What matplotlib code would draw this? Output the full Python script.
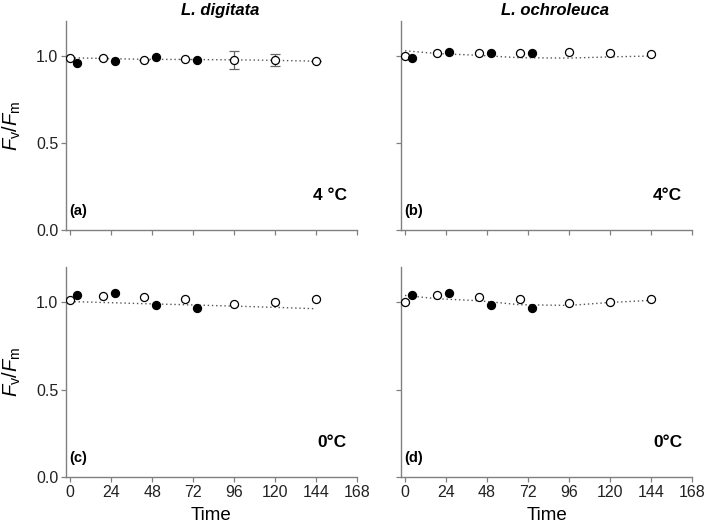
import numpy as np
import matplotlib
matplotlib.use("Agg")
import matplotlib.pyplot as plt

plt.rcParams['font.family'] = ['Liberation Sans', 'DejaVu Sans']
plt.rcParams['mathtext.fontset'] = 'custom'
plt.rcParams['mathtext.rm'] = 'Liberation Sans'
plt.rcParams['mathtext.it'] = 'Liberation Sans:italic'

# DATA
t_open = [0, 19, 43, 67, 96, 120, 144]
t_filled = [4, 26, 50, 74]
t_fit = [0, 19, 43, 67, 96, 120, 144]

a_open = [0.990, 0.987, 0.979, 0.981, 0.979, 0.975, 0.970]
a_open_err = [0, 0, 0, 0, 0.052, 0.034, 0]
a_filled = [0.958, 0.971, 0.996, 0.979]
a_fit = [0.990, 0.986, 0.981, 0.980, 0.978, 0.975, 0.970]

b_open = [1.000, 1.015, 1.019, 1.019, 1.023, 1.017, 1.013]
b_open_err = [0, 0, 0, 0, 0, 0, 0]
b_filled = [0.990, 1.025, 1.019, 1.019]
b_fit = [1.030, 1.014, 1.004, 0.990, 0.988, 0.995, 1.000]

c_open = [1.011, 1.036, 1.027, 1.019, 0.989, 1.002, 1.019]
c_open_err = [0, 0, 0, 0, 0, 0, 0]
c_filled = [1.038, 1.051, 0.981, 0.968]
c_fit = [1.003, 0.998, 0.991, 0.985, 0.977, 0.970, 0.962]

d_open = [1.000, 1.040, 1.027, 1.017, 0.992, 1.002, 1.019]
d_open_err = [0, 0, 0, 0, 0, 0, 0]
d_filled = [1.038, 1.053, 0.981, 0.968]
d_fit = [1.038, 1.019, 1.008, 0.985, 0.981, 0.998, 1.010]

panels = [
    ("(a)", "4 °C", "L. digitata", a_open, a_open_err, a_filled, a_fit),
    ("(b)", "4°C", "L. ochroleuca", b_open, b_open_err, b_filled, b_fit),
    ("(c)", "0°C", None, c_open, c_open_err, c_filled, c_fit),
    ("(d)", "0°C", None, d_open, d_open_err, d_filled, d_fit),
]

# axes positions in figure fractions
positions = [
    [0.0931, 0.566, 0.4104, 0.394],
    [0.5652, 0.566, 0.4113, 0.394],
    [0.0931, 0.100, 0.4104, 0.396],
    [0.5652, 0.100, 0.4113, 0.396],
]

fig = plt.figure(figsize=(7.09, 5.30), dpi=100)
spine_col = "#808080"

for i, (lab, temp, title, yo, yerr, yf, yfit) in enumerate(panels):
    ax = fig.add_axes(positions[i])

    ax.plot(t_fit, yfit, linestyle=(0, (1, 2)), color="#555555", lw=1.0, zorder=1)
    if any(e > 0 for e in yerr):
        ax.errorbar(t_open, yo, yerr=yerr, fmt='none', ecolor="#666666",
                    elinewidth=0.9, capsize=3.5, capthick=0.9, zorder=2)
    ax.plot(t_open, yo, 'o', ms=5.8, mfc='white', mec='black', mew=0.9,
            linestyle='none', zorder=3)
    ax.plot(t_filled, yf, 'o', ms=5.8, mfc='black', mec='black', mew=0.9,
            linestyle='none', zorder=3)

    ax.set_xlim(-2.5, 168)
    ax.set_ylim(0, 1.2)
    ax.set_xticks([0, 24, 48, 72, 96, 120, 144, 168])
    ax.set_yticks([0.0, 0.5, 1.0])

    for s in ['top', 'right']:
        ax.spines[s].set_visible(False)
    for s in ['left', 'bottom']:
        ax.spines[s].set_color(spine_col)
        ax.spines[s].set_linewidth(1.0)
    ax.tick_params(direction='out', length=3.5, width=0.9, color=spine_col,
                   labelsize=11.5, labelcolor="#222222", pad=2)

    if i in (0, 2):
        ax.set_yticklabels(["0.0", "0.5", "1.0"])
        ax.set_ylabel(r"$F_{\mathrm{v}}/F_{\mathrm{m}}$", fontsize=14.5)
        ax.yaxis.set_label_coords(-0.148, 0.5)
    else:
        ax.set_yticklabels([])
    if i in (2, 3):
        ax.set_xlabel("Time", fontsize=13.5, labelpad=5)
    else:
        ax.set_xticklabels([])

    ax.text(-0.5, 0.11, lab, fontsize=10.5, fontweight='bold', ha='left', va='center')
    ax.text(162, 0.2, temp, fontsize=12.5, fontweight='bold', ha='right', va='center')
    if title:
        ax.text(0.53, 1.03, title, transform=ax.transAxes, fontsize=12,
                fontweight='bold', style='italic', ha='center', va='baseline')

fig.savefig("out.png", dpi=100)
